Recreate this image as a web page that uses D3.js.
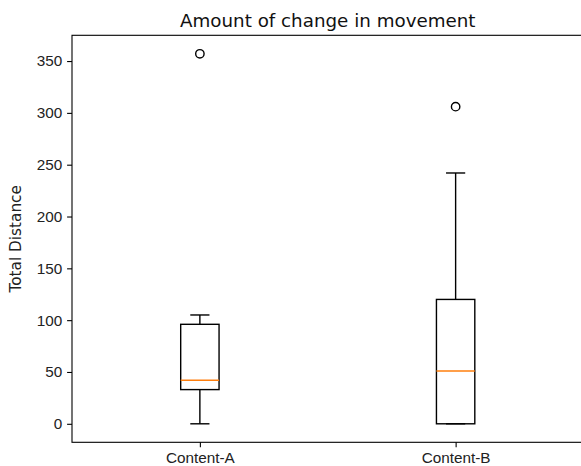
<!DOCTYPE html>
<html>
<head>
<meta charset="utf-8">
<script src="https://cdn.jsdelivr.net/npm/d3@7"></script>
<style>
  body { margin: 0; background: #fff; }
  svg { display: block; font-family: "DejaVu Sans", sans-serif; }
  .axis path, .axis line { stroke: #000; stroke-width: 1.1; }
  .axis text { fill: #222; font-size: 15.3px; }
</style>
</head>
<body>
<div id="chart"></div>
<script>
(function () {
  'use strict';

  // box stats
  var categories = ["Content-A", "Content-B"];
  var whiskerLow = [0, 0];
  var q1 = [33, 0];
  var median = [42, 51];
  var q3 = [96, 120];
  var whiskerHigh = [105, 242];
  var fliers = [[357], [306]];
  var yTicks = [0, 50, 100, 150, 200, 250, 300, 350];

  var outerWidth = 581,
      outerHeight = 466,
      margin = { top: 35.3, left: 72, right: -2.5, bottom: 23.7 },
      width = outerWidth - margin.left - margin.right,
      height = outerHeight - margin.top - margin.bottom;

  var svg = d3.select("#chart").append("svg")
    .attr("width", outerWidth)
    .attr("height", outerHeight);

  var g = svg.append("g")
    .attr("transform", "translate(" + margin.left + "," + margin.top + ")");

  // matplotlib style 5% margins on the data range
  var allLow = d3.min(whiskerLow.concat(d3.merge(fliers)));
  var allHigh = d3.max(whiskerHigh.concat(d3.merge(fliers)));
  var pad = (allHigh - allLow) * 0.05;

  var y = d3.scaleLinear()
    .domain([allLow - pad, allHigh + pad])
    .range([height, 0]);

  var x = d3.scaleLinear()
    .domain([0.5, categories.length + 0.5])
    .range([0, width]);

  var boxW = x(1.15) - x(1);

  var data = categories.map(function (c, i) {
    return {
      name: c, pos: i + 1,
      lo: whiskerLow[i], q1: q1[i], med: median[i], q3: q3[i], hi: whiskerHigh[i],
      fl: fliers[i]
    };
  });

  var boxes = g.selectAll(".box")
    .data(data)
    .enter().append("g")
    .attr("class", "box");

  // whiskers
  boxes.append("line")
    .attr("x1", function (d) { return x(d.pos); })
    .attr("x2", function (d) { return x(d.pos); })
    .attr("y1", function (d) { return y(d.q1); })
    .attr("y2", function (d) { return y(d.lo); })
    .attr("stroke", "#000").attr("stroke-width", 1.4);
  boxes.append("line")
    .attr("x1", function (d) { return x(d.pos); })
    .attr("x2", function (d) { return x(d.pos); })
    .attr("y1", function (d) { return y(d.q3); })
    .attr("y2", function (d) { return y(d.hi); })
    .attr("stroke", "#000").attr("stroke-width", 1.4);

  // caps
  ["lo", "hi"].forEach(function (k) {
    boxes.append("line")
      .attr("x1", function (d) { return x(d.pos) - boxW / 4; })
      .attr("x2", function (d) { return x(d.pos) + boxW / 4; })
      .attr("y1", function (d) { return y(d[k]); })
      .attr("y2", function (d) { return y(d[k]); })
      .attr("stroke", "#000").attr("stroke-width", 1.4);
  });

  boxes.append("rect")
    .attr("x", function (d) { return x(d.pos) - boxW / 2; })
    .attr("width", boxW)
    .attr("y", function (d) { return y(d.q3); })
    .attr("height", function (d) { return y(d.q1) - y(d.q3); })
    .attr("fill", "none")
    .attr("stroke", "#000").attr("stroke-width", 1.4);

  boxes.append("line")
    .attr("x1", function (d) { return x(d.pos) - boxW / 2; })
    .attr("x2", function (d) { return x(d.pos) + boxW / 2; })
    .attr("y1", function (d) { return y(d.med); })
    .attr("y2", function (d) { return y(d.med); })
    .attr("stroke", "#ff7f0e").attr("stroke-width", 1.4);

  boxes.selectAll(".flier")
    .data(function (d) { return d.fl.map(function (v) { return { pos: d.pos, v: v }; }); })
    .enter().append("circle")
    .attr("class", "flier")
    .attr("cx", function (d) { return x(d.pos); })
    .attr("cy", function (d) { return y(d.v); })
    .attr("r", 4.2)
    .attr("fill", "none")
    .attr("stroke", "#000").attr("stroke-width", 1.4);

  // axes
  var yAxis = d3.axisLeft(y).tickValues(yTicks).tickSize(4.9).tickPadding(4.9);
  g.append("g").attr("class", "axis").call(yAxis)
    .select(".domain").remove();

  var xAxis = d3.axisBottom(x).tickValues(d3.range(1, categories.length + 1))
    .tickFormat(function (d) { return categories[d - 1]; })
    .tickSize(4.9).tickPadding(4.9);
  g.append("g").attr("class", "axis")
    .attr("transform", "translate(0," + height + ")")
    .call(xAxis)
    .select(".domain").remove();

  // frame
  g.append("rect")
    .attr("width", width).attr("height", height)
    .attr("fill", "none")
    .attr("stroke", "#000").attr("stroke-width", 1.1);

  svg.append("text")
    .attr("x", margin.left + width / 2)
    .attr("y", margin.top - 8.3)
    .attr("text-anchor", "middle")
    .style("font-size", "18.3px")
    .style("fill", "#111")
    .text("Amount of change in movement");

  svg.append("text")
    .attr("transform", "translate(21," + (margin.top + height / 2) + ") rotate(-90)")
    .attr("text-anchor", "middle")
    .style("font-size", "15.3px")
    .style("fill", "#222")
    .text("Total Distance");
})();
</script>
</body>
</html>
